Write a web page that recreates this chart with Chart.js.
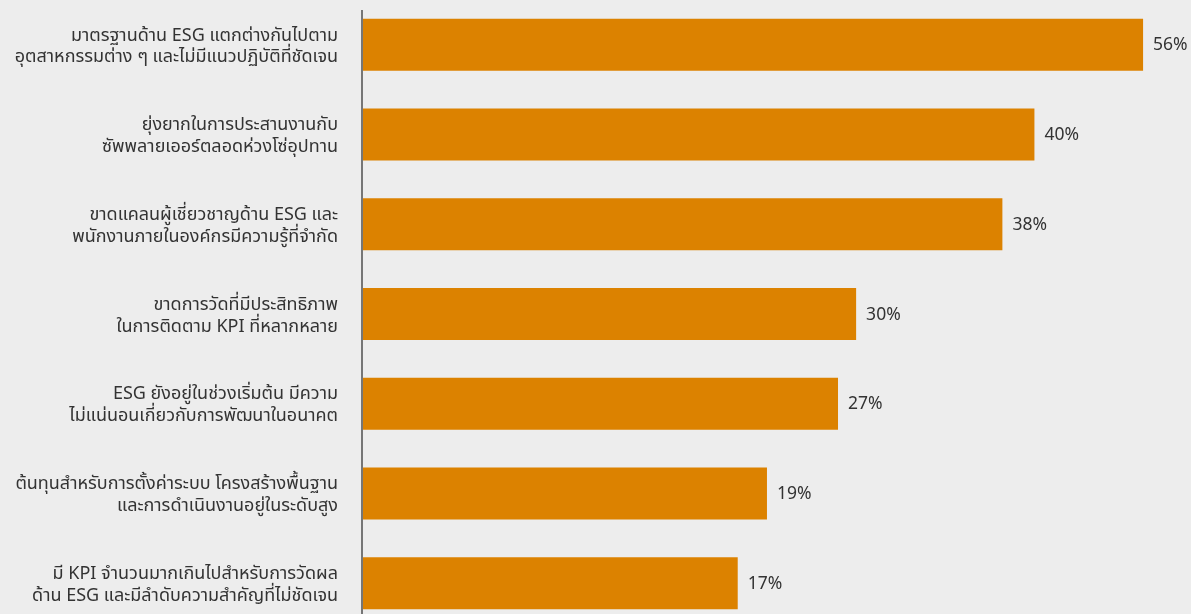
<!DOCTYPE html>
<html>
<head>
<meta charset="utf-8">
<script src="https://cdn.jsdelivr.net/npm/chart.js@4"></script>
<style>
    html, body { margin: 0; padding: 0; background: #ededed; overflow: hidden; }
    #wrap { width: 1191px; height: 614px; overflow: hidden; }
</style>
</head>
<body>
<div id="wrap"><canvas id="barChart" width="1191" height="628"></canvas></div>
<script>
// ========== 데이터 ==========
const categories = [
    ['มาตรฐานด้าน ESG แตกต่างกันไปตาม', 'อุตสาหกรรมต่าง ๆ และไม่มีแนวปฏิบัติที่ชัดเจน'],
    ['ยุ่งยากในการประสานงานกับ', 'ซัพพลายเออร์ตลอดห่วงโซ่อุปทาน'],
    ['ขาดแคลนผู้เชี่ยวชาญด้าน ESG และ', 'พนักงานภายในองค์กรมีความรู้ที่จำกัด'],
    ['ขาดการวัดที่มีประสิทธิภาพ', 'ในการติดตาม KPI ที่หลากหลาย'],
    ['ESG ยังอยู่ในช่วงเริ่มต้น มีความ', 'ไม่แน่นอนเกี่ยวกับการพัฒนาในอนาคต'],
    ['ต้นทุนสำหรับการตั้งค่าระบบ โครงสร้างพื้นฐาน', 'และการดำเนินงานอยู่ในระดับสูง'],
    ['มี KPI จำนวนมากเกินไปสำหรับการวัดผล', 'ด้าน ESG และมีลำดับความสำคัญที่ไม่ชัดเจน']
];
// 막대 옆에 표시되는 값 (%)
const percentLabels = [56, 40, 38, 30, 27, 19, 17];
// 원본 그림의 막대 길이 (56% 막대 기준 단위) - 원본은 비례하지 않음
const barLengths = [56, 48.2, 45.9, 35.4, 34.1, 29.0, 26.9];
const axisMax = 59.44;

const BAR_COLOR = '#dc8200';
const TEXT_COLOR = '#333333';
const FONT = "'Noto Sans Thai', 'Leelawadee UI', Tahoma, 'Noto Sans', sans-serif";

// 세로 축선 (위쪽 10px 띄움)
const axisLinePlugin = {
    id: 'axisLine',
    afterDatasetsDraw(chart) {
        const ctx = chart.ctx;
        const x = chart.chartArea.left - 1;
        ctx.save();
        ctx.strokeStyle = '#767676';
        ctx.lineWidth = 2;
        ctx.beginPath();
        ctx.moveTo(x, chart.chartArea.top + 10);
        ctx.lineTo(x, chart.height);
        ctx.stroke();
        ctx.restore();
    }
};

// 값 라벨
const valueLabelPlugin = {
    id: 'valueLabels',
    afterDatasetsDraw(chart) {
        const ctx = chart.ctx;
        const meta = chart.getDatasetMeta(0);
        ctx.save();
        ctx.fillStyle = TEXT_COLOR;
        ctx.font = '17.5px ' + FONT;
        ctx.textAlign = 'left';
        ctx.textBaseline = 'middle';
        meta.data.forEach((bar, i) => {
            ctx.fillText(percentLabels[i] + '%', bar.x + 10, bar.y + 2);
        });
        ctx.restore();
    }
};

const ctx = document.getElementById('barChart').getContext('2d');
const chart = new Chart(ctx, {
    type: 'bar',
    data: {
        labels: categories,
        datasets: [{
            data: barLengths,
            backgroundColor: BAR_COLOR,
            borderWidth: 0,
            barPercentage: 0.58,
            categoryPercentage: 1.0
        }]
    },
    options: {
        indexAxis: 'y',
        responsive: false,
        animation: false,
        layout: { padding: 0 },
        plugins: {
            legend: { display: false },
            tooltip: { enabled: false }
        },
        scales: {
            x: {
                display: false,
                min: 0,
                max: axisMax
            },
            y: {
                grid: { display: false, drawTicks: false },
                border: { display: false },
                ticks: {
                    color: TEXT_COLOR,
                    padding: 25,
                    labelOffset: 3,
                    font: { family: FONT, size: 18, lineHeight: 1.22 }
                },
                afterFit(scale) {
                    scale.width = 363;
                    scale.paddingTop = 0;
                    scale.paddingBottom = 0;
                }
            }
        }
    },
    plugins: [axisLinePlugin, valueLabelPlugin]
});
</script>
</body>
</html>
